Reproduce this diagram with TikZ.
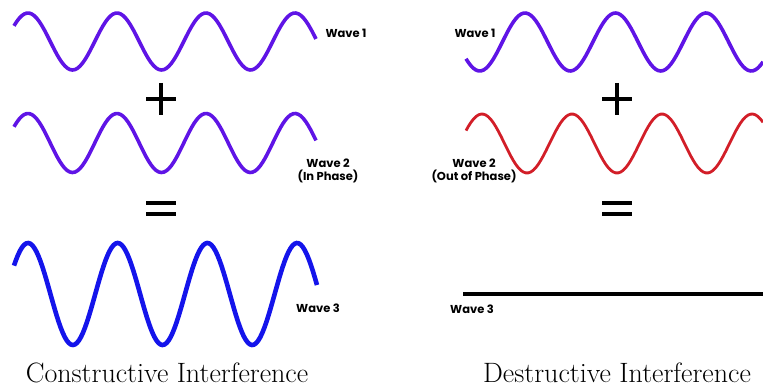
\documentclass[tikz,border=0pt]{standalone}
\usepackage{fontspec}
\newfontfamily\wavefont{Poppins}
\definecolor{wavepurple}{RGB}{95,20,230}
\definecolor{waveblue}{RGB}{20,20,235}
\definecolor{wavered}{RGB}{210,30,40}
\usepackage{tikz}

\begin{document}
\begin{tikzpicture}[x=1pt, y=-1pt,
    wavelabel/.style={font=\wavefont\bfseries\fontsize{11.5}{13}\selectfont, align=center, inner sep=0pt},
    title/.style={font=\fontsize{28}{30}\selectfont, inner sep=0pt},
    sign/.style={line width=4pt}]
  \useasboundingbox (0,0) rectangle (763,390);

  % Constructive: wave 1 and wave 2 in phase
  \draw[wavepurple, line width=3.6pt, domain=14:316, samples=120]
    plot (\x, {41.5 - 28.5*cos((\x-28)/89*360)});
  \draw[wavepurple, line width=3.6pt, domain=14:316, samples=120]
    plot (\x, {143 - 29.5*cos((\x-28)/89*360)});

  % plus and equals
  \draw[sign] (146,99) -- (176,99);
  \draw[sign] (161,83) -- (161,115);
  \draw[sign] (146,203.5) -- (176,203.5);
  \draw[sign] (146,214.5) -- (176,214.5);

  % Wave 3, twice as tall
  \draw[waveblue, line width=4.6pt, domain=14:317, samples=150]
    plot (\x, {294 - 51*cos((\x-28)/89.7*360)});

  \node[wavelabel] (w1a) at (346,33) {Wave 1};
  \node[wavelabel] (w2a) at (328,171) {Wave 2\\(In Phase)};
  \node[wavelabel] (w3a) at (318,308) {Wave 3};
  \node[title] (cons) at (167,373) {Constructive Interference};

  % Destructive: wave 2 shifted by half a period
  \draw[wavepurple, line width=3.6pt, domain=466:763, samples=120]
    plot (\x, {42 - 29*cos((\x-525)/90.5*360)});
  \draw[wavered, line width=2.8pt, domain=466:763, samples=120]
    plot (\x, {143.5 - 29.5*cos((\x-482)/90*360)});

  \draw[sign] (602,99) -- (632,99);
  \draw[sign] (617,83) -- (617,115);
  \draw[sign] (602,203.5) -- (632,203.5);
  \draw[sign] (602,214.5) -- (632,214.5);

  % Wave 3 cancels out
  \draw[line width=4pt] (463,294) -- (763,294);

  \node[wavelabel] (w1b) at (475,33) {Wave 1};
  \node[wavelabel] (w2b) at (474,171) {Wave 2\\(Out of Phase)};
  \node[wavelabel] (w3b) at (472,309) {Wave 3};
  \node[title] (dest) at (617,373) {Destructive Interference};

\end{tikzpicture}
\end{document}
